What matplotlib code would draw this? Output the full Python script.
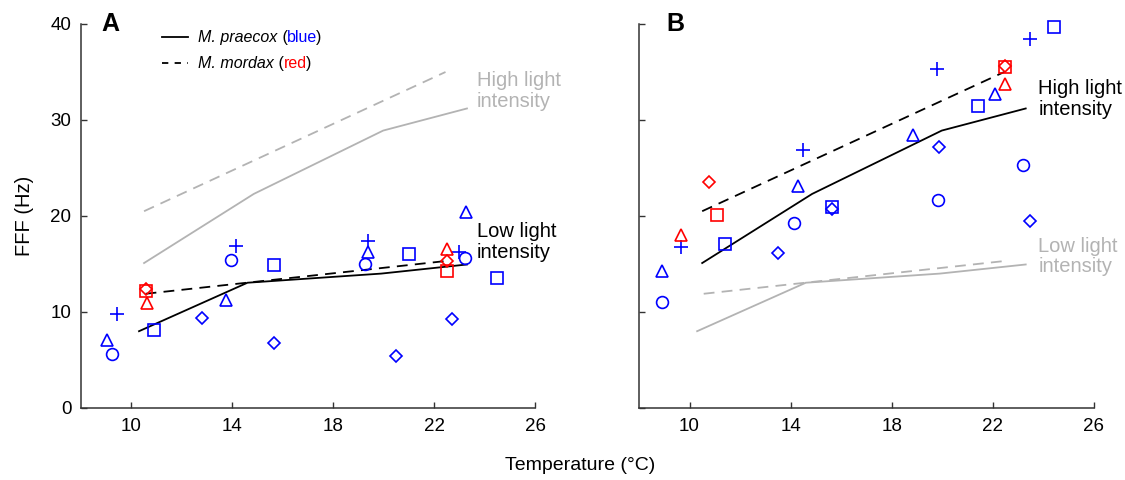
import matplotlib.pyplot as plt

plt.rcParams['font.family'] = ['Liberation Sans', 'DejaVu Sans']

# mean FFF curves (temperature, Hz)
prae_low_t = [10.3, 14.6, 19.9, 23.3]
prae_low_f = [8.0, 13.05, 14.0, 14.95]
prae_high_t = [10.5, 14.85, 19.98, 23.3]
prae_high_f = [15.1, 22.3, 28.9, 31.2]
mord_low_t = [10.56, 22.6]
mord_low_f = [11.9, 15.35]
mord_high_t = [10.5, 22.45]
mord_high_f = [20.5, 35.0]

# individual fish, panel A (low light)
a_blue_circle_t = [9.22, 13.95, 19.26, 23.21]
a_blue_circle_f = [5.6, 15.4, 14.97, 15.6]
a_blue_tri_t = [9.03, 13.73, 19.39, 23.28]
a_blue_tri_f = [7.08, 11.3, 16.3, 20.4]
a_blue_plus_t = [9.41, 14.15, 19.39, 22.98]
a_blue_plus_f = [9.76, 16.9, 17.4, 16.2]
a_blue_sq_t = [10.9, 15.64, 21.0, 24.49]
a_blue_sq_f = [8.1, 14.9, 16.0, 13.5]
a_blue_dia_t = [12.8, 15.64, 20.5, 22.71]
a_blue_dia_f = [9.4, 6.8, 5.45, 9.24]
a_red_tri_t = [10.63, 22.49]
a_red_tri_f = [10.97, 16.6]
a_red_sq_t = [10.59, 22.49]
a_red_sq_f = [12.2, 14.27]
a_red_dia_t = [10.59, 22.49]
a_red_dia_f = [12.35, 15.3]

# individual fish, panel B (high light)
b_blue_circle_t = [8.92, 14.13, 19.82, 23.19]
b_blue_circle_f = [11.07, 19.3, 21.7, 25.3]
b_blue_tri_t = [8.91, 14.29, 18.86, 22.08]
b_blue_tri_f = [14.27, 23.1, 28.4, 32.7]
b_blue_plus_t = [9.67, 14.5, 19.8, 23.48]
b_blue_plus_f = [16.8, 26.9, 35.3, 38.4]
b_blue_sq_t = [11.4, 15.62, 21.42, 24.4]
b_blue_sq_f = [17.05, 20.9, 31.46, 39.7]
b_blue_dia_t = [13.5, 15.62, 19.87, 23.48]
b_blue_dia_f = [16.1, 20.7, 27.2, 19.5]
b_red_tri_t = [9.67, 22.5]
b_red_tri_f = [18.0, 33.8]
b_red_sq_t = [11.09, 22.47]
b_red_sq_f = [20.1, 35.5]
b_red_dia_t = [10.75, 22.47]
b_red_dia_f = [23.5, 35.6]

xticks = [10, 14, 18, 22, 26]
yticks = [0, 10, 20, 30, 40]

grey = '#b3b3b3'
blue = '#0000ff'
red = '#ff0000'

fig = plt.figure(figsize=(11.25, 4.8), dpi=100)
axA = fig.add_axes([0.072, 0.15, 0.4036, 0.80])
axB = fig.add_axes([0.568, 0.15, 0.4044, 0.80])


def pts(ax, t, f, marker, color, ms):
    ax.plot(t, f, linestyle='none', marker=marker, ms=ms, mfc='none',
            mec=color, mew=1.2, zorder=3, clip_on=False)


def scatter_set(ax, d, color):
    pts(ax, d[0][0], d[0][1], 'o', color, 8.5)
    pts(ax, d[1][0], d[1][1], '^', color, 9)
    pts(ax, d[2][0], d[2][1], '+', color, 9.5)
    pts(ax, d[3][0], d[3][1], 's', color, 8.5)
    pts(ax, d[4][0], d[4][1], 'D', color, 6.5)


def red_set(ax, d):
    pts(ax, d[0][0], d[0][1], '^', red, 9)
    pts(ax, d[1][0], d[1][1], 's', red, 8.5)
    pts(ax, d[2][0], d[2][1], 'D', red, 6.5)


# panel A: low light in black, high light in grey
axA.plot(prae_high_t, prae_high_f, color=grey, lw=1.3)
axA.plot(mord_high_t, mord_high_f, color=grey, lw=1.3, ls=(0, (6, 4)))
axA.plot(prae_low_t, prae_low_f, color='black', lw=1.3)
axA.plot(mord_low_t, mord_low_f, color='black', lw=1.3, ls=(0, (6, 4)))
scatter_set(axA, [(a_blue_circle_t, a_blue_circle_f), (a_blue_tri_t, a_blue_tri_f),
                  (a_blue_plus_t, a_blue_plus_f), (a_blue_sq_t, a_blue_sq_f),
                  (a_blue_dia_t, a_blue_dia_f)], blue)
red_set(axA, [(a_red_tri_t, a_red_tri_f), (a_red_sq_t, a_red_sq_f),
              (a_red_dia_t, a_red_dia_f)])

# panel B: high light in black, low light in grey
axB.plot(prae_low_t, prae_low_f, color=grey, lw=1.3)
axB.plot(mord_low_t, mord_low_f, color=grey, lw=1.3, ls=(0, (6, 4)))
axB.plot(prae_high_t, prae_high_f, color='black', lw=1.3)
axB.plot(mord_high_t, mord_high_f, color='black', lw=1.3, ls=(0, (6, 4)))
scatter_set(axB, [(b_blue_circle_t, b_blue_circle_f), (b_blue_tri_t, b_blue_tri_f),
                  (b_blue_plus_t, b_blue_plus_f), (b_blue_sq_t, b_blue_sq_f),
                  (b_blue_dia_t, b_blue_dia_f)], blue)
red_set(axB, [(b_red_tri_t, b_red_tri_f), (b_red_sq_t, b_red_sq_f),
              (b_red_dia_t, b_red_dia_f)])

for ax in (axA, axB):
    ax.set_xlim(8, 26)
    ax.set_ylim(0, 40)
    ax.set_xticks(xticks)
    ax.set_yticks(yticks)
    ax.spines['top'].set_visible(False)
    ax.spines['right'].set_visible(False)
    for s in ('left', 'bottom'):
        ax.spines[s].set_color('#333333')
        ax.spines[s].set_linewidth(1.1)
    ax.tick_params(direction='in', length=4, width=1, color='#333333',
                   labelsize=13.5, pad=7)
axB.set_yticklabels([])

axA.text(0.045, 1.0, 'A', transform=axA.transAxes, fontsize=18,
         fontweight='bold', va='center')
axB.text(0.06, 1.0, 'B', transform=axB.transAxes, fontsize=18,
         fontweight='bold', va='center')

# legend drawn by hand
axA.plot([11.2, 12.25], [38.6, 38.6], color='black', lw=1.3, clip_on=False)
axA.plot([11.2, 12.25], [35.9, 35.9], color='black', lw=1.3, ls=(0, (3.5, 3.5)),
         clip_on=False)
for yy, name, col, word in [(38.6, 'M. praecox', blue, 'blue'),
                            (35.9, 'M. mordax', red, 'red')]:
    t = axA.text(12.65, yy, name + ' (', fontsize=11.5, va='center')
    t.set_text(name)
    t.set_style('italic')
    t2 = axA.annotate(' (', xycoords=t, xy=(1, 0.5), va='center', fontsize=11.5)
    t3 = axA.annotate(word, xycoords=t2, xy=(1, 0.5), va='center',
                      fontsize=11.5, color=col)
    axA.annotate(')', xycoords=t3, xy=(1, 0.5), xytext=(-1, 0),
                 textcoords='offset points', va='center', fontsize=11.5)

axA.text(23.7, 33.0, 'High light\nintensity', color=grey, fontsize=14.5,
         va='center', linespacing=1.1)
axA.text(23.7, 17.3, 'Low light\nintensity', color='black', fontsize=14.5,
         va='center', linespacing=1.1)
axB.text(23.8, 32.2, 'High light\nintensity', color='black', fontsize=14.5,
         va='center', linespacing=1.1)
axB.text(23.8, 15.8, 'Low light\nintensity', color=grey, fontsize=14.5,
         va='center', linespacing=1.1)

axA.set_ylabel('FFF (Hz)', fontsize=14.5, labelpad=12)
fig.text(0.516, 0.02, 'Temperature (\u00b0C)', fontsize=14, ha='center')

fig.savefig('out.png', dpi=100)
